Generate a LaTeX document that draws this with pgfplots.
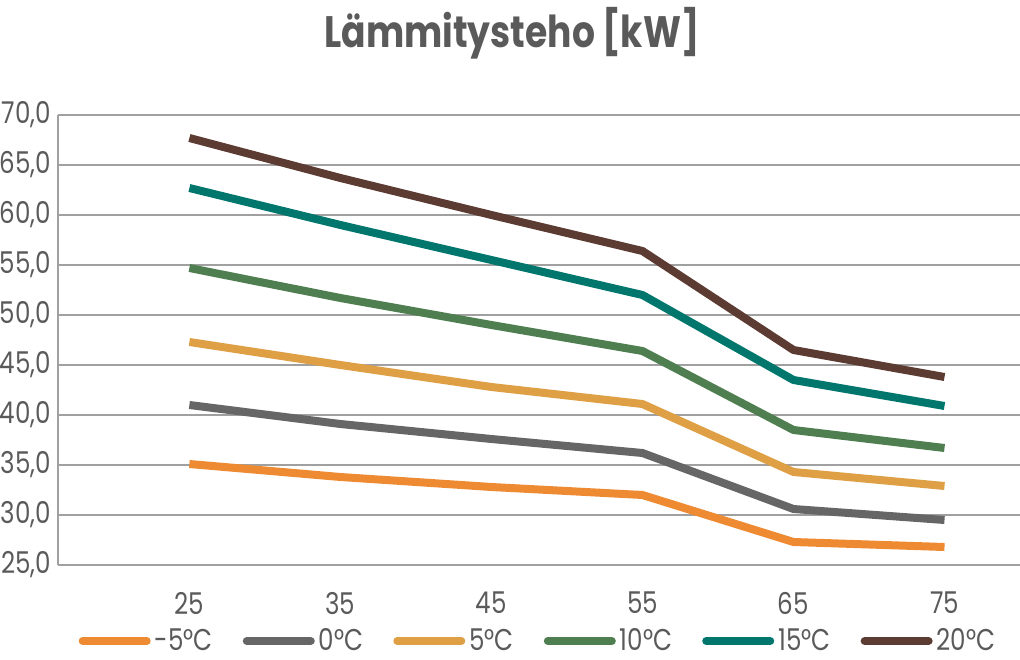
\documentclass[border=0pt]{standalone}
\usepackage{fontspec}
\setmainfont{Poppins}[FakeStretch=0.82]
\usepackage{pgfplots}
\pgfplotsset{compat=1.18}
\definecolor{cmfive}{HTML}{EE8A32}
\definecolor{czero}{HTML}{666666}
\definecolor{cfive}{HTML}{DFA045}
\definecolor{cten}{HTML}{4F7F50}
\definecolor{cfifteen}{HTML}{00766C}
\definecolor{ctwenty}{HTML}{5B3B32}
\definecolor{txt}{HTML}{5A5A5A}
\definecolor{gridc}{HTML}{A0A0A0}
\begin{document}
\begin{tikzpicture}
\useasboundingbox (0,0) rectangle (510pt,329.5pt);
\begin{axis}[
  at={(29pt,47pt)}, anchor=south west,
  scale only axis, width=481pt, height=225pt,
  xmin=-0.87, xmax=5.5, ymin=25, ymax=70,
  xtick={0,...,5}, xticklabels={25,35,45,55,65,75},
  ytick={25,30,...,70},
  /pgf/number format/.cd, fixed, fixed zerofill, precision=1, use comma, assume math mode=true,
  /pgfplots/.cd,
  major tick length=0pt,
  axis x line*=bottom, axis y line*=left,
  axis line style={gridc, line width=1pt},
  ymajorgrids, grid style={gridc, line width=1pt},
  tick label style={font=\fontsize{15}{18}\selectfont, text=txt},
  xticklabel style={yshift=-10pt},
  title={Lämmitysteho [kW]},
  title style={at={(0.472,1)}, anchor=center, yshift=35pt,
    font=\bfseries\fontsize{22}{26}\selectfont, text=txt},
  legend columns=6,
  legend style={at={(0.5,0)}, anchor=center, yshift=-38pt, draw=none, fill=none,
    font=\fontsize{15}{18}\selectfont, text=txt,
    /tikz/every even column/.append style={column sep=13pt},
    /tikz/every odd column/.append style={column sep=0pt}},
  legend image code/.code={\draw[#1, line width=4pt, line cap=round] (0pt,0pt) -- (32pt,0pt);},
  every axis plot/.append style={line width=4pt, line join=round},
]
\addplot[cmfive] coordinates {(0,35.1)(1,33.8)(2,32.8)(3,32.0)(4,27.3)(5,26.8)};
\addplot[czero] coordinates {(0,41.0)(1,39.1)(2,37.6)(3,36.2)(4,30.6)(5,29.5)};
\addplot[cfive] coordinates {(0,47.3)(1,45.0)(2,42.8)(3,41.1)(4,34.3)(5,32.9)};
\addplot[cten] coordinates {(0,54.7)(1,51.7)(2,49.0)(3,46.4)(4,38.5)(5,36.7)};
\addplot[cfifteen] coordinates {(0,62.7)(1,59.0)(2,55.5)(3,52.0)(4,43.5)(5,40.9)};
\addplot[ctwenty] coordinates {(0,67.7)(1,63.7)(2,60.0)(3,56.4)(4,46.5)(5,43.8)};
\legend{-5°C,0°C,5°C,10°C,15°C,20°C}
\end{axis}
\end{tikzpicture}
\end{document}
